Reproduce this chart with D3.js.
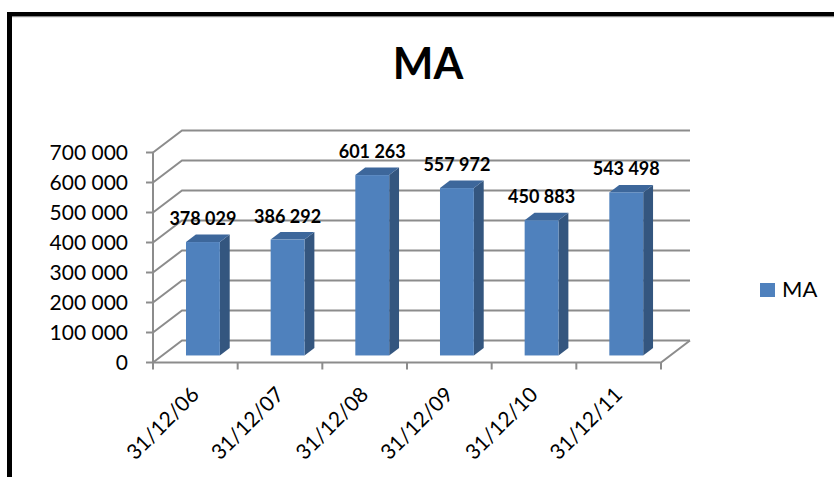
<!DOCTYPE html>
<html>
<head>
<meta charset="utf-8">
<script src="https://cdn.jsdelivr.net/npm/d3@7"></script>
<style>
html,body{margin:0;padding:0;background:#fff;}
svg{display:block;}
</style>
</head>
<body>
<svg id="chart" width="834" height="477"></svg>
<script>
const categories = ["31/12/06","31/12/07","31/12/08","31/12/09","31/12/10","31/12/11"];
const values = [378029, 386292, 601263, 557972, 450883, 543498];
const labels = ["378 029","386 292","601 263","557 972","450 883","543 498"];
const yTicks = [0,100000,200000,300000,400000,500000,600000,700000];
const yTickLabels = ["0","100 000","200 000","300 000","400 000","500 000","600 000","700 000"];
const seriesName = "MA";
const title = "MA";

const svg = d3.select("#chart");
const W = 834, H = 477;
const font = "Lato, 'Open Sans', sans-serif";

// frame
svg.append("rect").attr("x",0).attr("y",0).attr("width",W).attr("height",H).attr("fill","#fff");
svg.append("rect").attr("x",7).attr("y",16).attr("width",W-7).attr("height",1.2).attr("fill","#888");
svg.append("rect").attr("x",7).attr("y",12).attr("width",W-7).attr("height",4).attr("fill","#000");
svg.append("rect").attr("x",7).attr("y",12).attr("width",5).attr("height",H-12).attr("fill","#000");

// scales
const x = d3.scaleBand().domain(categories).range([153,661]).paddingInner(0).paddingOuter(0);
const y = d3.scaleLinear().domain([0,700000]).range([362.5,152.5]);
const DX = 29, DY = -22; // depth projection
const off = d => [DX*d, DY*d];

const grid = "#8c8c8c";
const g = svg.append("g");

// back wall gridlines with left-wall diagonals
yTicks.forEach(t => {
  const y0 = y(t);
  g.append("path")
    .attr("d", `M${153},${y0} L${153+DX},${y0+DY} L${690},${y0+DY}`)
    .attr("fill","none").attr("stroke",grid).attr("stroke-width",2);
});
// floor edges
const y0 = y(0);
g.append("path").attr("d",`M153,${y0} L661,${y0} L${661+DX},${y0+DY}`)
  .attr("fill","none").attr("stroke",grid).attr("stroke-width",2);
// vertical axis
g.append("line").attr("x1",153).attr("x2",153).attr("y1",y(700000)).attr("y2",y0+6)
  .attr("stroke",grid).attr("stroke-width",2);
// y ticks
yTicks.forEach(t => {
  g.append("line").attr("x1",146).attr("x2",153).attr("y1",y(t)).attr("y2",y(t))
    .attr("stroke",grid).attr("stroke-width",2);
});
// x ticks
const xt = categories.map(c => x(c)).concat([661]);
xt.forEach(v => {
  g.append("line").attr("x1",v).attr("x2",v).attr("y1",y0).attr("y2",y0+7)
    .attr("stroke",grid).attr("stroke-width",2);
});

// y labels
svg.append("g").selectAll("text").data(yTicks).join("text")
  .attr("x",128).attr("y",d=>y(d)).attr("dy","0.36em")
  .attr("text-anchor","end").attr("font-family",font).attr("font-size",21)
  .attr("fill","#000").text((d,i)=>yTickLabels[i]);

// bars
const dFront = 0.32, dBack = 0.66;
const [fx, fy] = off(dFront);
const [bx, by] = off(dBack);
const sdx = bx-fx, sdy = by-fy;
const bw = x.bandwidth()*0.40;
const bars = svg.append("g");
categories.forEach((c,i) => {
  const left = x(c) + x.bandwidth()*0.28 + fx;
  const right = left + bw;
  const bottom = y(0) + fy;
  const top = y(values[i]) + fy;
  // side
  bars.append("path")
    .attr("d",`M${right},${top} L${right+sdx},${top+sdy} L${right+sdx},${bottom+sdy} L${right},${bottom} Z`)
    .attr("fill","#34567f");
  // top
  bars.append("path")
    .attr("d",`M${left},${top} L${left+sdx},${top+sdy} L${right+sdx},${top+sdy} L${right},${top} Z`)
    .attr("fill","#3d679b");
  // front
  bars.append("rect").attr("x",left).attr("y",top).attr("width",bw).attr("height",bottom-top)
    .attr("fill","#4f81bd");
  // label
  svg.append("text").attr("x",(left+right)/2).attr("y",top-17)
    .attr("text-anchor","middle").attr("font-family",font).attr("font-weight","bold")
    .attr("font-size",18).attr("fill","#000").text(labels[i]);
});

// x labels
svg.append("g").selectAll("text").data(categories).join("text")
  .attr("transform",d=>`translate(${x(d)+x.bandwidth()/2+5},396) rotate(-45)`)
  .attr("text-anchor","end").attr("font-family",font).attr("font-size",21)
  .attr("fill","#000").text(d=>d);

// title
svg.append("text").attr("x",428).attr("y",79).attr("text-anchor","middle")
  .attr("font-family",font).attr("font-weight","bold").attr("font-size",43)
  .attr("fill","#000").text(title);

// legend
svg.append("rect").attr("x",760).attr("y",283).attr("width",15).attr("height",14).attr("fill","#4f81bd");
svg.append("text").attr("x",782).attr("y",297).attr("font-family",font).attr("font-size",22)
  .attr("fill","#000").text(seriesName);
</script>
</body>
</html>
